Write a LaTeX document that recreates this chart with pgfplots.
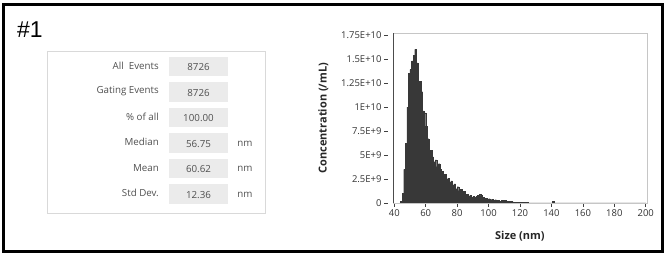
\documentclass[border=0pt]{standalone}
\usepackage{pgfplots}
\pgfplotsset{compat=1.18}
\usepackage{fontspec}
\setmainfont{Open Sans}
\newfontfamily\arialf{Liberation Sans}
\definecolor{barc}{HTML}{383838}
\definecolor{boxc}{HTML}{EBEBEB}
\definecolor{txtc}{HTML}{505050}
\begin{document}
\begin{tikzpicture}
% background and frame (image coords: Y = 259 - y)
\fill[white] (0bp,0bp) rectangle (666bp,259bp);
\draw[black,line width=3bp] (3.3bp,254bp) rectangle (662bp,7.5bp);
\node[anchor=base west,inner sep=0pt,font=\arialf\fontsize{23}{23}\selectfont] at (17bp,221bp) {\#1};
% stats table
\draw[gray!30,fill=white] (46.7bp,207.3bp) rectangle (265bp,46bp);
\foreach \lab/\val/\unit [count=\i from 0] in {All\ \ Events/8726/,Gating Events/8726/,\%\ of all/100.00/,Median/56.75/nm,Mean/60.62/nm,Std Dev./12.36/nm}{
  \pgfmathsetmacro{\yy}{259-66.7-25.5*\i}
  \fill[boxc] (169bp,\yy bp-9.8bp) rectangle (228bp,\yy bp+9.8bp);
  \node[anchor=east,inner sep=0pt,text=txtc,font=\fontsize{9.8}{10}\selectfont] at (159bp,\yy bp+1bp) {\lab};
  \node[inner sep=0pt,text=txtc,font=\fontsize{9.8}{10}\selectfont] at (198.5bp,\yy bp-0.5bp) {\val};
  \node[inner sep=0pt,text=txtc,font=\fontsize{9.8}{10}\selectfont] at (245bp,\yy bp-0.5bp) {\unit};
}
\begin{axis}[
  at={(393bp,56bp)}, anchor=south west,
  scale only axis, width=253.7bp, height=169.7bp,
  xmin=39.2, xmax=200.6, ymin=0, ymax=17.68,
  axis line style={draw=gray!45},
  xtick={40,60,...,200},
  ytick={0,2.5,5,7.5,10,12.5,15,17.5},
  yticklabels={0,2.5E+9,5E+9,7.5E+9,1E+10,1.25E+10,1.5E+10,1.75E+10},
  xtick pos=left, ytick pos=left, tick align=outside,
  major tick length=4bp,
  tick style={draw=black!75,line width=0.6bp},
  ytick style={xshift=-5bp},
  /pgf/number format/assume math mode=true,
  ticklabel style={font=\fontsize{9.5}{10}\selectfont,text=black!80},
  yticklabel style={xshift=-4bp},
  xticklabel style={yshift=1bp},
  xlabel={Size (nm)}, ylabel={Concentration (/mL)},
  label style={font=\bfseries\fontsize{11}{12}\selectfont,text=black!85},
  xlabel style={yshift=-8bp},
  ylabel style={yshift=6bp},
  clip=true,
]
\addplot[const plot, fill=barc, draw=barc, line width=0.2bp] coordinates {
(43.5,0) (44,0.2) (45,1.0) (46,3.5) (47,6.2) (48,10.0) (49,13.5) (50,13.9) (51,14.8) (52,15.4) (53,16.0)
(54,14.6) (55,12.6) (56,12.7) (57,11.6) (58,9.6) (59,9.4) (60,8.0) (61,6.7) (62,5.4) (63,5.5)
(64,4.8) (65,4.3) (66,4.5) (67,3.8) (68,4.1) (69,3.5) (70,3.3) (71,2.9) (72,3.0) (73,2.5)
(74,2.6) (75,2.2) (76,2.3) (77,1.9) (78,2.0) (79,1.5) (80,1.7) (81,1.3) (82,1.4) (83,1.0)
(84,1.2) (85,0.8) (86,0.9) (87,0.7) (88,0.8) (89,0.6) (90,0.7) (91,0.6) (92,0.7) (93,0.8)
(94,0.9) (95,0.8) (96,0.6) (97,0.5) (98,0.5) (99,0.4) (100,0.45) (101,0.35) (102,0.4) (103,0.3)
(104,0.35) (105,0.25) (106,0.3) (107,0.2) (108,0.3) (109,0.2) (110,0.25) (111,0.15) (112,0.2) (113,0.15)
(114,0.15) (115,0.12) (116,0.1) (117,0.1) (118,0.1) (119,0.1) (120,0.1) (121,0.1) (122,0.1) (123,0.1)
(124,0.1) (125,0) (140,0) (140.5,0.15) (141.5,0) (200,0)
} \closedcycle;
\draw[black!70,line width=0.8bp] (rel axis cs:0,1) -- (rel axis cs:0,0) -- (rel axis cs:1,0);
\end{axis}
\end{tikzpicture}
\end{document}
